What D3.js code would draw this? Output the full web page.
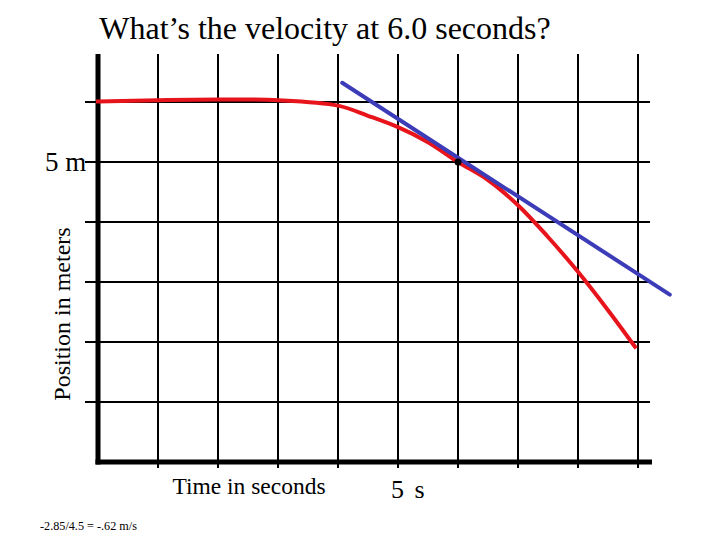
<!DOCTYPE html>
<html><head><meta charset="utf-8">
<script src="https://cdn.jsdelivr.net/npm/d3@7"></script>
<style>body{margin:0;background:#fff}svg{display:block}</style>
</head><body>
<svg id="c" width="720" height="540"></svg>
<script>
const gridTimes = [1,2,3,4,5,6,7,8,9];
const gridPositions = [1,2,3,4,5,6];
const curveTime = [0,1,2,3,4,4.5,5,5.5,6,6.5,7,7.5,8,8.5,8.95];
const curvePos  = [6.01,6.03,6.04,6.03,5.94,5.77,5.58,5.33,5.0,4.7,4.28,3.75,3.17,2.53,1.92];
const tangentTime = [4.07,9.53];
const tangentPos  = [6.32,2.79];
const pointTime = [6];
const pointPos = [5];
const labels = {title:"What’s the velocity at 6.0 seconds?", yTick:"5 m", xTick:"5 s", xTitle:"Time in seconds", yTitle:"Position in meters", note:"-2.85/4.5 = -.62 m/s"};

const svg = d3.select("#c");
const x = d3.scaleLinear().domain([0,9]).range([98,638]);
const y = d3.scaleLinear().domain([0,6]).range([462,102]);
const plotTop = 54, xEnd = 652;

// vertical grid
svg.selectAll("line.v").data(gridTimes).enter().append("line")
  .attr("x1",d=>x(d)).attr("x2",d=>x(d)).attr("y1",plotTop).attr("y2",468)
  .attr("stroke","#000").attr("stroke-width",2);
// horizontal grid
svg.selectAll("line.h").data(gridPositions).enter().append("line")
  .attr("x1",85).attr("x2",650).attr("y1",d=>y(d)).attr("y2",d=>y(d))
  .attr("stroke","#000").attr("stroke-width",2);
// axes
svg.append("line").attr("x1",x(0)).attr("x2",x(0)).attr("y1",plotTop).attr("y2",y(0)+2.5)
  .attr("stroke","#000").attr("stroke-width",5);
svg.append("line").attr("x1",x(0)-2.5).attr("x2",xEnd).attr("y1",y(0)).attr("y2",y(0))
  .attr("stroke","#000").attr("stroke-width",5);

// red curve
const pts = curveTime.map((t,i)=>[t,curvePos[i]]);
svg.append("path").datum(pts)
  .attr("d", d3.line().x(d=>x(d[0])).y(d=>y(d[1])).curve(d3.curveCatmullRom))
  .attr("fill","none").attr("stroke","#e8141c").attr("stroke-width",4).attr("stroke-linecap","square");
// tangent
const tp = tangentTime.map((t,i)=>[t,tangentPos[i]]);
svg.append("path").datum(tp)
  .attr("d", d3.line().x(d=>x(d[0])).y(d=>y(d[1])))
  .attr("fill","none").attr("stroke","#3c3cb8").attr("stroke-width",4).attr("stroke-linecap","round");
// point
svg.selectAll("circle").data(pointTime).enter().append("circle")
  .attr("cx",d=>x(d)).attr("cy",(d,i)=>y(pointPos[i])).attr("r",3.5).attr("fill","#000");

const serif = "'Liberation Serif','DejaVu Serif',serif";
svg.append("text").attr("x",325).attr("y",39).attr("text-anchor","middle")
  .attr("font-family",serif).attr("font-size",32).text(labels.title);
svg.append("text").attr("x",45).attr("y",y(5)+9).attr("font-family",serif).attr("font-size",27).text(labels.yTick);
svg.append("text").attr("transform","translate(70,"+314+") rotate(-90)").attr("text-anchor","middle")
  .attr("font-family",serif).attr("font-size",24).text(labels.yTitle);
svg.append("text").attr("x",249).attr("y",494).attr("text-anchor","middle")
  .attr("font-family",serif).attr("font-size",23.5).text(labels.xTitle);
svg.append("text").attr("x",391).attr("y",498).attr("font-family",serif).attr("font-size",26)
  .attr("letter-spacing",2).text(labels.xTick);
svg.append("text").attr("x",40).attr("y",530).attr("font-family",serif).attr("font-size",12.2).text(labels.note);
</script>
</body></html>
